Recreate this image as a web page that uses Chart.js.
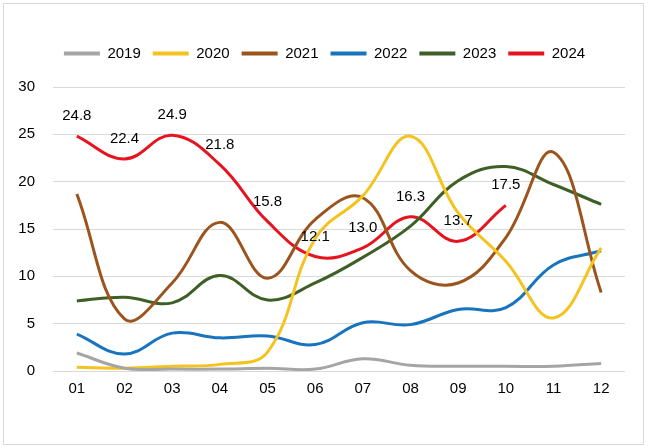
<!DOCTYPE html>
<html>
<head>
<meta charset="utf-8">
<script src="https://cdn.jsdelivr.net/npm/chart.js@4"></script>
<style>
  html, body { margin: 0; padding: 0; background: #fff; }
  #wrap { width: 648px; height: 448px; }
</style>
</head>
<body>
<div id="wrap"><canvas id="c" width="648" height="448"></canvas></div>
<script>
// categories and series
const months = ['01', '02', '03', '04', '05', '06', '07', '08', '09', '10', '11', '12'];
const y2019 = [1.9, 0.3, 0.2, 0.2, 0.3, 0.2, 1.3, 0.6, 0.5, 0.5, 0.5, 0.8];
const y2020 = [0.4, 0.3, 0.5, 0.7, 2.0, 14.0, 18.5, 24.8, 16.7, 11.6, 5.6, 13.0];
const y2021 = [18.7, 5.5, 9.3, 15.7, 9.8, 16.0, 18.3, 10.6, 9.3, 14.1, 23.1, 8.3];
const y2022 = [3.9, 1.8, 4.0, 3.5, 3.7, 2.8, 5.1, 4.9, 6.5, 6.7, 11.2, 12.7];
const y2023 = [7.4, 7.8, 7.2, 10.1, 7.5, 9.3, 12.0, 15.3, 20.1, 21.6, 19.7, 17.6];
const y2024 = [24.8, 22.4, 24.9, 21.8, 15.8, 12.1, 13.0, 16.3, 13.7, 17.5];
const yTicks = [0, 5, 10, 15, 20, 25, 30];

const FONT = 'Liberation Sans, Arial, sans-serif';

function serie(label, data, color) {
  return {
    label: label,
    data: data,
    borderColor: color,
    backgroundColor: color,
    borderWidth: 3,
    pointRadius: 0,
    pointHoverRadius: 0,
    tension: 0.4,
    fill: false
  };
}

// etiquetas de valor so para 2024
const rotulos = {
  id: 'rotulos',
  afterDatasetsDraw(chart) {
    const ctx = chart.ctx;
    const meta = chart.getDatasetMeta(5);
    ctx.save();
    ctx.font = '15px ' + FONT;
    ctx.fillStyle = '#000';
    ctx.textAlign = 'center';
    ctx.textBaseline = 'middle';
    meta.data.forEach((p, i) => {
      ctx.fillText(y2024[i].toFixed(1), p.x, p.y - 20);
    });
    ctx.restore();
  }
};

// legenda: espaco extra embaixo e um pouco deslocada pra direita
const ajusteLegenda = {
  id: 'ajusteLegenda',
  beforeInit(chart) {
    const lg = chart.legend;
    const fitOrig = lg.fit;
    const drawOrig = lg.draw;
    lg.fit = function () {
      fitOrig.bind(lg)();
      this.height += 16;
    };
    lg.draw = function () {
      chart.ctx.save();
      chart.ctx.translate(12, 0);
      drawOrig.bind(lg)();
      chart.ctx.restore();
    };
  }
};

// moldura cinza em volta
const moldura = {
  id: 'moldura',
  afterDraw(chart) {
    const ctx = chart.ctx;
    ctx.save();
    ctx.strokeStyle = '#d9d9d9';
    ctx.lineWidth = 1;
    ctx.strokeRect(3.5, 3.5, 640, 441);
    ctx.restore();
  }
};

new Chart(document.getElementById('c'), {
  type: 'line',
  data: {
    labels: months,
    datasets: [
      serie('2019', y2019, '#a5a5a5'),
      serie('2020', y2020, '#f5c320'),
      serie('2021', y2021, '#9c541e'),
      serie('2022', y2022, '#1874be'),
      serie('2023', y2023, '#3e5f26'),
      serie('2024', y2024, '#e6141e')
    ]
  },
  options: {
    responsive: false,
    animation: false,
    layout: { padding: { left: 0, right: 23, top: 34, bottom: 49 } },
    plugins: {
      legend: {
        position: 'top',
        labels: {
          boxWidth: 36,
          boxHeight: 4,
          padding: 12,
          color: '#000',
          font: { family: FONT, size: 15 },
          generateLabels(chart) {
            return chart.data.datasets.map((d, i) => ({
              text: d.label,
              fillStyle: d.borderColor,
              strokeStyle: d.borderColor,
              lineWidth: 0,
              datasetIndex: i
            }));
          }
        }
      },
      tooltip: { enabled: false }
    },
    scales: {
      x: {
        offset: true,
        grid: { display: false },
        border: { display: false },
        ticks: { color: '#000', font: { family: FONT, size: 15 }, padding: 1 }
      },
      y: {
        min: 0,
        max: 30,
        afterFit(axis) { axis.width = 53; },
        afterBuildTicks(axis) { axis.ticks = yTicks.map(v => ({ value: v })); },
        grid: { color: '#d9d9d9', drawTicks: false },
        border: { display: false },
        ticks: { color: '#000', font: { family: FONT, size: 15 }, padding: 18 }
      }
    }
  },
  plugins: [rotulos, ajusteLegenda, moldura]
});
</script>
</body>
</html>
